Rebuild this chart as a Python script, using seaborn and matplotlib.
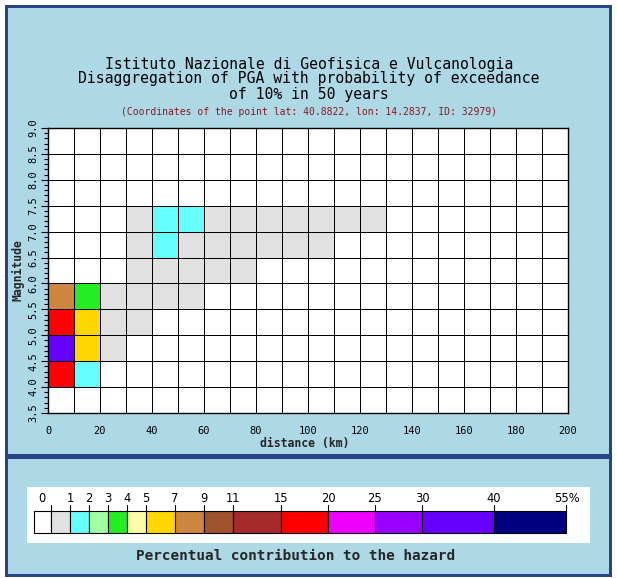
import numpy as np
import pandas as pd
import matplotlib
matplotlib.use("Agg")
import matplotlib.pyplot as plt
import seaborn as sns
from matplotlib.colors import ListedColormap, BoundaryNorm
from matplotlib.patches import Rectangle

# ---------------- data ----------------
distance_edges = list(range(0, 201, 10))            # km, 20 bins
magnitude_edges = [3.5, 4.0, 4.5, 5.0, 5.5, 6.0, 6.5, 7.0, 7.5, 8.0, 8.5, 9.0]
x_tick_labels = ["0", "20", "40", "60", "80", "100", "120", "140", "160", "180", "200"]
y_tick_labels = ["3.5", "4.0", "4.5", "5.0", "5.5", "6.0", "6.5", "7.0", "7.5", "8.0", "8.5", "9.0"]

level_bounds = [0, 1, 2, 3, 4, 5, 7, 9, 11, 15, 20, 25, 30, 40, 55]
level_labels = ["0", "1", "2", "3", "4", "5", "7", "9", "11", "15", "20", "25", "30", "40", "55%"]
level_colors = ["#FFFFFF", "#E1E1E1", "#66FFFF", "#A0FFA0", "#22EE22", "#FFFFA8",
                "#FFD700", "#CD853F", "#A0522D", "#A52A2A", "#FF0000", "#EE00FF",
                "#9900FF", "#6600FF", "#000080"]

# percentual contribution, rows = magnitude bins from 3.5-4.0 (bottom) to 8.5-9.0 (top)
contribution = [
    [0] * 20,                                                              # 3.5-4.0
    [15.8, 1.6] + [0] * 18,                                                # 4.0-4.5
    [33.0, 6.1, 0.6] + [0] * 17,                                           # 4.5-5.0
    [16.5, 5.6, 0.8, 0.4] + [0] * 16,                                      # 5.0-5.5
    [7.8, 3.4, 0.9, 0.7, 0.5, 0.3] + [0] * 14,                             # 5.5-6.0
    [0, 0, 0, 0.5, 0.7, 0.6, 0.4, 0.2] + [0] * 12,                         # 6.0-6.5
    [0, 0, 0, 0.6, 1.1, 0.9, 0.7, 0.5, 0.4, 0.3, 0.2] + [0] * 9,           # 6.5-7.0
    [0, 0, 0, 0.5, 1.3, 1.2, 0.9, 0.7, 0.5, 0.4, 0.3, 0.2, 0.1] + [0] * 7, # 7.0-7.5
    [0] * 20,                                                              # 7.5-8.0
    [0] * 20,                                                              # 8.0-8.5
    [0] * 20,                                                              # 8.5-9.0
]

# layout (pixel widths of legend segments, as drawn in the reference)
SEG_W = [17, 19, 19, 19, 19, 19, 29, 29, 29, 48, 47, 47, 47, 72, 72]

W, H = 617, 578
BG = "#ADD8E6"
FRAME = "#2A4286"
MONO = ["DejaVu Sans Mono"]

sns.set_theme(style="white")
plt.rcParams["font.family"] = MONO

fig = plt.figure(figsize=(W / 100, H / 100), dpi=100)
fig.patch.set_facecolor("white")


def px_rect(x0, y0, x1, y1, color, z=0):
    fig.patches.append(Rectangle((x0 / W, 1 - y1 / H), (x1 - x0) / W, (y1 - y0) / H,
                                 transform=fig.transFigure, facecolor=color,
                                 edgecolor="none", zorder=z))


# frame and panels
px_rect(5, 5, 612, 577, FRAME, z=0)
px_rect(8, 8, 609, 454, BG, z=1)
px_rect(8, 459, 609, 574, BG, z=1)

# ---------------- heatmap ----------------
df = pd.DataFrame(contribution[::-1],
                  index=[f"{m:.1f}" for m in magnitude_edges[:-1]][::-1],
                  columns=[str(d) for d in distance_edges[:-1]])

cmap = ListedColormap(level_colors)
norm = BoundaryNorm([-1, 1e-9] + level_bounds[1:], cmap.N)

ax = fig.add_axes([48 / W, 1 - 413 / H, 520 / W, 285 / H])
ax.set_zorder(3)
sns.heatmap(df, ax=ax, cmap=cmap, norm=norm, cbar=False, linewidths=0.55,
            linecolor="black", xticklabels=False, yticklabels=False)

nrows, ncols = df.shape
ax.set_xticks(np.arange(0, ncols + 1, 2))
ax.set_xticklabels(x_tick_labels, fontsize=7.5, family=MONO)
ax.set_yticks(np.arange(0, nrows + 1))
ax.set_yticklabels(y_tick_labels[::-1], fontsize=7.5, family=MONO, rotation=90, va="center")
ax.set_yticks(np.arange(0, nrows + 0.01, 0.2), minor=True)
ax.tick_params(axis="x", length=0, pad=9, colors="black")
ax.tick_params(axis="y", which="major", length=5, width=0.8, pad=2, left=True, colors="black")
ax.tick_params(axis="y", which="minor", length=3, width=0.8, left=True, colors="black")
for s in ax.spines.values():
    s.set_visible(True)
    s.set_color("black")
    s.set_linewidth(1)
ax.set_xlabel("")
ax.set_ylabel("")

fig.text(305 / W, 1 - 444 / H, "distance (km)", ha="center", va="center",
         fontsize=8.3, fontweight="bold", family=MONO, zorder=5)
fig.text(18 / W, 1 - 270 / H, "Magnitude", ha="center", va="center", rotation=90,
         fontsize=8.3, fontweight="bold", family=MONO, zorder=5)

# ---------------- titles ----------------
for txt, y in [("Istituto Nazionale di Geofisica e Vulcanologia", 65),
               ("Disaggregation of PGA with probability of exceedance", 79),
               ("of 10% in 50 years", 94)]:
    fig.text(309 / W, 1 - y / H, txt, ha="center", va="center", fontsize=10.6,
             family=MONO, color="black", zorder=5)
fig.text(309 / W, 1 - 112 / H,
         "(Coordinates of the point lat: 40.8822, lon: 14.2837, ID: 32979)",
         ha="center", va="center", fontsize=7, family=MONO, color="#8B1A1A", zorder=5)

# ---------------- legend bar ----------------
lx0, ly0, lx1, ly1 = 27, 487, 590, 543
lax = fig.add_axes([lx0 / W, 1 - ly1 / H, (lx1 - lx0) / W, (ly1 - ly0) / H])
lax.set_zorder(3)
lax.set_facecolor("white")
lax.set_xlim(0, lx1 - lx0)
lax.set_ylim(ly1 - ly0, 0)
for s in lax.spines.values():
    s.set_visible(False)
lax.set_xticks([])
lax.set_yticks([])

lefts = 7 + np.concatenate([[0], np.cumsum(SEG_W)[:-1]])
bar_top, bar_bot = 24, 46
lax.bar(lefts, bar_bot - bar_top, width=SEG_W, bottom=bar_top, align="edge",
        color=level_colors, edgecolor="black", linewidth=0.8)
edges = 7 + np.cumsum(SEG_W)
for i, lab in enumerate(level_labels):
    xt = edges[i]
    lax.plot([xt, xt], [bar_top - 6, bar_top], color="black", lw=0.8)
    xl = xt
    if i == 0:
        xl = xt - 9
    elif i == len(level_labels) - 1:
        xl = xt + 1
    lax.text(xl, 11, lab, ha="center", va="center", fontsize=8.3,
             family=["DejaVu Sans"], color="black")

fig.text(296 / W, 1 - 556 / H, "Percentual contribution to the hazard", ha="center",
         va="center", fontsize=10.4, fontweight="bold", family=MONO, zorder=5)

fig.savefig("out.png", dpi=100, facecolor=fig.get_facecolor())
